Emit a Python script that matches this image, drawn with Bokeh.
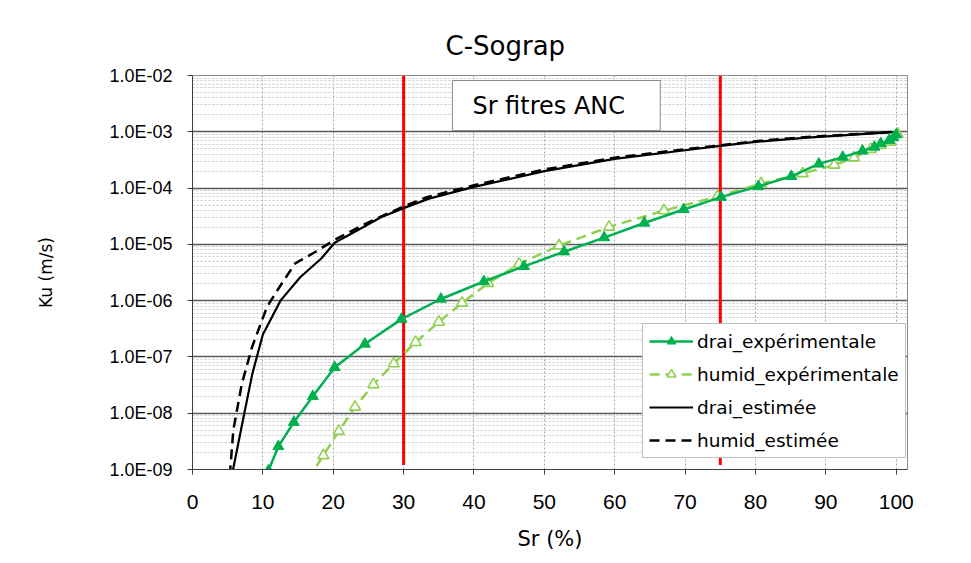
from bokeh.plotting import figure
from bokeh.models import (ColumnDataSource, FixedTicker, CustomJSTickFormatter, Label,
                          Legend, LegendItem, Range1d)
from bokeh.embed import file_html
from bokeh.resources import INLINE

# ---------------- data ----------------
drai_exp_sr = [10.8, 12.2, 14.4, 17.1, 20.2, 24.5, 29.7, 35.3, 41.4, 47.1, 52.8, 58.5, 64.2,
               69.8, 75.1, 80.4, 85.1, 89.0, 92.4, 95.2, 96.9, 97.8, 99.0, 99.6, 100.0]
drai_exp_ku = [9.6e-10, 2.57e-9, 6.9e-9, 2.0e-8, 6.5e-8, 1.7e-7, 4.7e-7, 1.07e-6, 2.19e-6,
               4.07e-6, 7.4e-6, 1.32e-5, 2.4e-5, 4.17e-5, 6.9e-5, 1.07e-4, 1.62e-4, 2.69e-4,
               3.55e-4, 4.57e-4, 5.37e-4, 6.17e-4, 7.08e-4, 7.9e-4, 8.9e-4]

humid_exp_sr = [16.4, 18.6, 20.8, 23.1, 25.7, 28.6, 31.7, 35.0, 38.3, 42.0, 46.4, 52.1, 59.2,
                67.0, 74.6, 80.8, 86.7, 91.2, 94.0, 96.4, 97.8, 99.2, 100.2]
humid_exp_ku = [6.6e-10, 1.78e-9, 4.8e-9, 1.29e-8, 3.24e-8, 7.6e-8, 1.82e-7, 4.17e-7, 9.1e-7,
                2.04e-6, 4.47e-6, 9.5e-6, 2.04e-5, 3.98e-5, 7.1e-5, 1.2e-4, 1.82e-4, 2.57e-4,
                3.47e-4, 4.9e-4, 5.75e-4, 6.6e-4, 9.1e-4]

drai_est_sr = [5.6, 7.25, 8.5, 10.0, 12.5, 15.3, 18.3, 20.2, 24.3, 26.7, 30.0, 33.6, 40.0,
               50.0, 60.0, 70.0, 75.0, 80.0, 87.4, 100.0]
drai_est_ku = [7.9e-10, 8.5e-9, 5.0e-8, 2.5e-7, 1.0e-6, 2.6e-6, 5.6e-6, 1.07e-5, 2.04e-5,
               3.0e-5, 4.4e-5, 6.5e-5, 1.05e-4, 2.0e-4, 3.3e-4, 4.7e-4, 5.6e-4, 6.6e-4,
               7.9e-4, 1.0e-3]

humid_est_sr = [5.3, 5.8, 7.0, 8.45, 10.6, 12.5, 14.6, 17.5, 20.5, 23.9, 26.9, 30.0, 33.3,
                40.0, 50.0, 60.0, 70.0, 75.0, 80.0, 87.4, 100.0]
humid_est_ku = [7.9e-10, 5.0e-9, 3.3e-8, 1.48e-7, 7.8e-7, 1.86e-6, 4.6e-6, 7.4e-6, 1.26e-5,
                2.1e-5, 3.16e-5, 4.7e-5, 6.9e-5, 1.12e-4, 2.14e-4, 3.47e-4, 4.9e-4, 5.75e-4,
                6.8e-4, 8.1e-4, 1.0e-3]

red_lines_sr = [30, 75]
x_ticks = [0, 10, 20, 30, 40, 50, 60, 70, 80, 90, 100]
y_ticks = [1e-9, 1e-8, 1e-7, 1e-6, 1e-5, 1e-4, 1e-3, 1e-2]

FONT = "DejaVu Sans"
TICK_FONT = "Liberation Sans"

p = figure(width=963, height=555, output_backend="svg", toolbar_location=None,
           y_axis_type="log", x_range=Range1d(0, 101.6), y_range=Range1d(1e-9, 1e-2),
           min_border_left=192, min_border_right=56, min_border_top=75, min_border_bottom=86,
           background_fill_color="white", border_fill_color="white")

p.title.text = "C-Sograp"
p.title.text_font = FONT
p.title.text_font_size = "26px"
p.title.text_font_style = "normal"
p.title.align = "left"
p.title.offset = 253
p.title.standoff = 30
p.title.text_color = "black"

p.outline_line_color = "#8c8c8c"

# axes
p.xaxis.ticker = FixedTicker(ticks=x_ticks)
p.yaxis.ticker = FixedTicker(ticks=y_ticks, minor_ticks=[m * 10.0 ** e for e in range(-9, -2) for m in range(2, 10)])
p.yaxis.formatter = CustomJSTickFormatter(code="""
const e = Math.round(Math.log10(tick));
const a = Math.abs(e);
return '1.0E' + (e < 0 ? '-' : '+') + (a < 10 ? '0' : '') + a;
""")
for ax in (p.xaxis, p.yaxis):
    ax.axis_line_color = "#404040"
    ax.axis_line_width = 1
    ax.major_tick_line_color = "#404040"
    ax.major_tick_out = 5
    ax.major_tick_in = 0
    ax.minor_tick_out = 0
    ax.minor_tick_in = 0
    ax.major_label_text_font = TICK_FONT
    ax.major_label_text_color = "black"
    ax.axis_label_text_font = FONT
    ax.axis_label_text_font_style = "normal"
    ax.axis_label_text_color = "black"

p.xaxis.major_label_text_font_size = "21px"
p.yaxis.major_label_text_font_size = "18px"
p.xaxis.axis_label = "Sr (%)"
p.yaxis.axis_label = "Ku (m/s)"
p.xaxis.axis_label_text_font_size = "21px"
p.yaxis.axis_label_text_font_size = "17px"
p.xaxis.major_label_standoff = 20
p.yaxis.major_label_standoff = 15
p.xaxis.axis_label_standoff = 15
p.yaxis.axis_label_standoff = 50

# grids
p.xgrid.grid_line_color = "#a6a6a6"
p.xgrid.grid_line_dash = "2 2"
p.xgrid.grid_line_width = 1
p.ygrid.grid_line_color = "#595959"
p.ygrid.grid_line_width = 1.3
p.ygrid.minor_grid_line_color = "#c8c8c8"
p.ygrid.minor_grid_line_dash = "2 2"
p.ygrid.minor_grid_line_width = 1

# red vertical lines
for xv in red_lines_sr:
    p.segment(x0=[xv], y0=[1e-2], x1=[xv], y1=[1.2e-9], line_color="#ff0000", line_width=3)

# series
GREEN = "#00b050"
LGREEN = "#92d050"
s1 = ColumnDataSource(dict(x=drai_exp_sr, y=drai_exp_ku))
s2 = ColumnDataSource(dict(x=humid_exp_sr, y=humid_exp_ku))
s3 = ColumnDataSource(dict(x=drai_est_sr, y=drai_est_ku))
s4 = ColumnDataSource(dict(x=humid_est_sr, y=humid_est_ku))

r4 = p.line("x", "y", source=s4, line_color="black", line_width=2.5, line_dash="10 6")
r3 = p.line("x", "y", source=s3, line_color="black", line_width=2.2)
r2l = p.line("x", "y", source=s2, line_color=LGREEN, line_width=2.5, line_dash="10 6")
r2m = p.scatter("x", "y", source=s2, marker="triangle", size=11, fill_color="white",
                line_color=LGREEN, line_width=1.6)
r1l = p.line("x", "y", source=s1, line_color=GREEN, line_width=2.5)
r1m = p.scatter("x", "y", source=s1, marker="triangle", size=11, fill_color=GREEN,
                line_color=GREEN, line_width=1)

legend = Legend(items=[
    LegendItem(label="drai_expérimentale", renderers=[r1l, r1m]),
    LegendItem(label="humid_expérimentale", renderers=[r2l, r2m]),
    LegendItem(label="drai_estimée", renderers=[r3]),
    LegendItem(label="humid_estimée", renderers=[r4]),
], location=(450, 11))
legend.label_text_font = FONT
legend.label_text_font_size = "18.5px"
legend.label_text_color = "black"
legend.glyph_width = 44
legend.glyph_height = 22
legend.label_height = 22
legend.label_standoff = 4
legend.spacing = 11
legend.padding = 6
legend.margin = 0
legend.border_line_color = "#808080"
legend.border_line_width = 1
legend.background_fill_color = "white"
legend.background_fill_alpha = 1
p.add_layout(legend, "center")

box = Label(x=51.7, y=2.93e-3, text="Sr  fitres  ANC", text_align="center",
            text_baseline="middle", text_font=FONT, text_font_size="24px", text_color="black",
            border_line_color="#8c8c8c", border_line_width=1, background_fill_color="white",
            padding=dict(left=20, right=20, top=11, bottom=11))
p.add_layout(box)

open("out.html", "w").write(file_html(p, INLINE))
